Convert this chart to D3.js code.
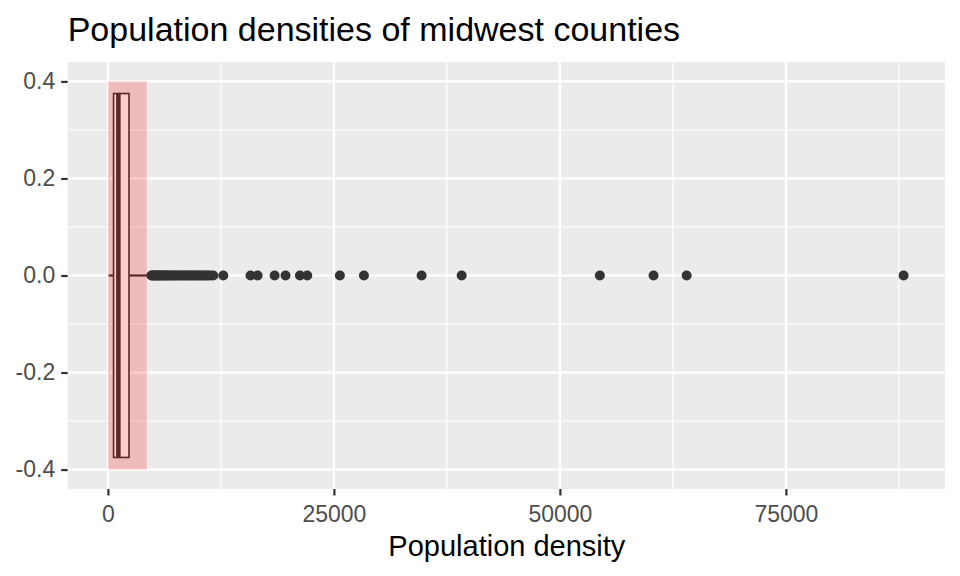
<!DOCTYPE html>
<html>
<head>
<meta charset="utf-8">
<script src="https://cdn.jsdelivr.net/npm/d3@7"></script>
<style>
  body { margin: 0; background: #fff; }
  svg text { font-family: "Liberation Sans", Arial, sans-serif; }
</style>
</head>
<body>
<svg id="chart" width="960" height="576"></svg>
<script>
// ---- data ----
const boxStats = { min: 85, q1: 622, median: 1156, q3: 2330, upperWhisker: 4300 };
const outliers = [4810, 4900, 5020, 5150, 5260, 5400, 5530, 5650, 5800, 5920, 6050, 6200, 6330, 6480, 6620, 6790, 6950, 7120, 7300, 7480, 7700, 7900, 8080, 8250, 8430, 8600, 8800, 8970, 9150, 9330, 9520, 9700, 9900, 10100, 10300, 10480, 10700, 10900, 11100, 11350, 11650,
  12760, 15780, 16560, 18440, 19650, 21240, 22050, 25660, 28320, 34700, 39130, 54420, 60360, 64020, 88018];
const highlight = { xmin: 0, xmax: 4300, ymin: -0.4, ymax: 0.4 };
const xTicks = [0, 25000, 50000, 75000];
const xMinor = [12500, 37500, 62500, 87500];
const yTicks = [-0.4, -0.2, 0.0, 0.2, 0.4];
const yMinor = [-0.3, -0.1, 0.1, 0.3];
const boxHalfWidth = 0.375;

// ---- layout ----
const svg = d3.select("#chart");
const L = 67.7, R = 945, T = 62, B = 489;
const x = d3.scaleLinear().domain([-4450, 92600]).range([L, R]);
const y = d3.scaleLinear().domain([-0.44, 0.44]).range([B, T]);

svg.append("rect").attr("x", L).attr("y", T).attr("width", R - L).attr("height", B - T).attr("fill", "#EBEBEB");

const g = svg.append("g");
// minor grid
g.selectAll(".vmin").data(xMinor).join("line")
  .attr("x1", d => x(d)).attr("x2", d => x(d)).attr("y1", T).attr("y2", B)
  .attr("stroke", "#fff").attr("stroke-width", 1.1);
g.selectAll(".hmin").data(yMinor).join("line")
  .attr("y1", d => y(d)).attr("y2", d => y(d)).attr("x1", L).attr("x2", R)
  .attr("stroke", "#fff").attr("stroke-width", 1.1);
// major grid
g.selectAll(".vmaj").data(xTicks).join("line")
  .attr("x1", d => x(d)).attr("x2", d => x(d)).attr("y1", T).attr("y2", B)
  .attr("stroke", "#fff").attr("stroke-width", 2.2);
g.selectAll(".hmaj").data(yTicks).join("line")
  .attr("y1", d => y(d)).attr("y2", d => y(d)).attr("x1", L).attr("x2", R)
  .attr("stroke", "#fff").attr("stroke-width", 2.2);

// boxplot
const dark = "#333333";
g.append("line").attr("x1", x(boxStats.min)).attr("x2", x(boxStats.q1))
  .attr("y1", y(0)).attr("y2", y(0)).attr("stroke", dark).attr("stroke-width", 2.2);
g.append("line").attr("x1", x(boxStats.q3)).attr("x2", x(boxStats.upperWhisker))
  .attr("y1", y(0)).attr("y2", y(0)).attr("stroke", dark).attr("stroke-width", 2.2);
g.append("rect")
  .attr("x", x(boxStats.q1)).attr("width", x(boxStats.q3) - x(boxStats.q1))
  .attr("y", y(boxHalfWidth)).attr("height", y(-boxHalfWidth) - y(boxHalfWidth))
  .attr("fill", "#fff").attr("stroke", dark).attr("stroke-width", 1.6);
g.append("line").attr("x1", x(boxStats.median)).attr("x2", x(boxStats.median))
  .attr("y1", y(boxHalfWidth)).attr("y2", y(-boxHalfWidth))
  .attr("stroke", dark).attr("stroke-width", 4.5);
g.selectAll(".out").data(outliers).join("circle")
  .attr("cx", d => x(d)).attr("cy", y(0)).attr("r", 5).attr("fill", dark);

// highlight rectangle
g.append("rect")
  .attr("x", x(highlight.xmin)).attr("width", x(highlight.xmax) - x(highlight.xmin))
  .attr("y", y(highlight.ymax)).attr("height", y(highlight.ymin) - y(highlight.ymax))
  .attr("fill", "red").attr("fill-opacity", 0.2);

// axes
const xAxis = svg.append("g").attr("transform", `translate(0,${B})`)
  .call(d3.axisBottom(x).tickValues(xTicks).tickSize(6.5).tickPadding(6).tickFormat(d3.format("d")));
const yAxis = svg.append("g").attr("transform", `translate(${L},0)`)
  .call(d3.axisLeft(y).tickValues(yTicks).tickSize(6.5).tickPadding(6).tickFormat(d3.format(".1f")));
[xAxis, yAxis].forEach(a => {
  a.select(".domain").remove();
  a.selectAll(".tick line").attr("stroke", dark).attr("stroke-width", 2.2);
  a.selectAll(".tick text").attr("fill", "#4D4D4D").style("font-size", "23px");
});
xAxis.selectAll(".tick text").attr("dy", "0.9em");
yAxis.selectAll(".tick text").text(d => d3.format(".1f")(d).replace("−", "-"));

// titles
svg.append("text").attr("x", (L + R) / 2 + 0.5).attr("y", 556).attr("text-anchor", "middle")
  .style("font-size", "29px").attr("fill", "#000").text("Population density");
svg.append("text").attr("x", L).attr("y", 41)
  .style("font-size", "34px").attr("fill", "#000").text("Population densities of midwest counties");
</script>
</body>
</html>
